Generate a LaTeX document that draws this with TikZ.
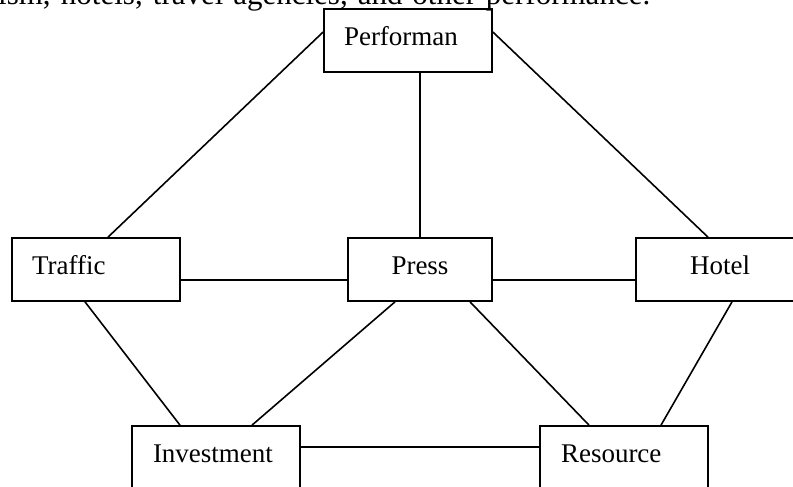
\documentclass[tikz,border=0pt]{standalone}
\usepackage{fontspec}
\setmainfont{Liberation Serif}

\begin{document}
\begin{tikzpicture}[
  x=1pt, y=-1pt,
  box/.style={draw, line width=1.7pt, minimum width=168pt, minimum height=63pt, inner sep=0pt,
    text height=18.5pt, text depth=8.5pt, font=\fontsize{27}{30}\selectfont},
  lbox/.style={box, inner xsep=20pt, text width=128pt, align=left},
  link/.style={line width=1.6pt},
  note/.style={font=\fontsize{31}{36}\selectfont, inner sep=0pt}
]
  \useasboundingbox (0,0) rectangle (793,487);
  \clip (0,0) rectangle (793,487);

  \node[note, anchor=base west] (intro) at (-2,5) {\makebox[652pt][s]{ism, hotels, travel agencies, and other performance.}};

  \node[lbox] (perf) at (408,40.5) {Performan};
  \node[lbox] (traffic) at (96,269.5) {Traffic};
  \node[box, minimum width=144pt] (press) at (420,269.5) {Press};
  \node[box] (hotel) at (720,269.5) {Hotel};
  \node[lbox, inner xsep=21pt, text width=126pt] (invest) at (216,457.5) {Investment};
  \node[lbox, inner xsep=21pt, text width=126pt] (resource) at (624,457.5) {Resource};

  \draw[link] ([yshift=8.5pt]perf.west) -- ([xshift=12pt]traffic.north);
  \draw[link] ([yshift=8.5pt]perf.east) -- ([xshift=-12pt]hotel.north);
  \draw[link] ([xshift=12pt]perf.south) -- (press.north);
  \draw[link] ([yshift=-10.5pt]traffic.east) -- ([yshift=-10.5pt]press.west);
  \draw[link] ([yshift=-10.5pt]press.east) -- ([yshift=-10.5pt]hotel.west);
  \draw[link] ([xshift=-11pt]traffic.south) -- ([xshift=-36pt]invest.north);
  \draw[link] ([xshift=-25pt]press.south) -- ([xshift=36pt]invest.north);
  \draw[link] ([xshift=50pt]press.south) -- ([xshift=-35pt]resource.north);
  \draw[link] ([xshift=12pt]hotel.south) -- ([xshift=37pt]resource.north);
  \draw[link] ([yshift=10.5pt]invest.east) -- ([yshift=10.5pt]resource.west);
\end{tikzpicture}
\end{document}
